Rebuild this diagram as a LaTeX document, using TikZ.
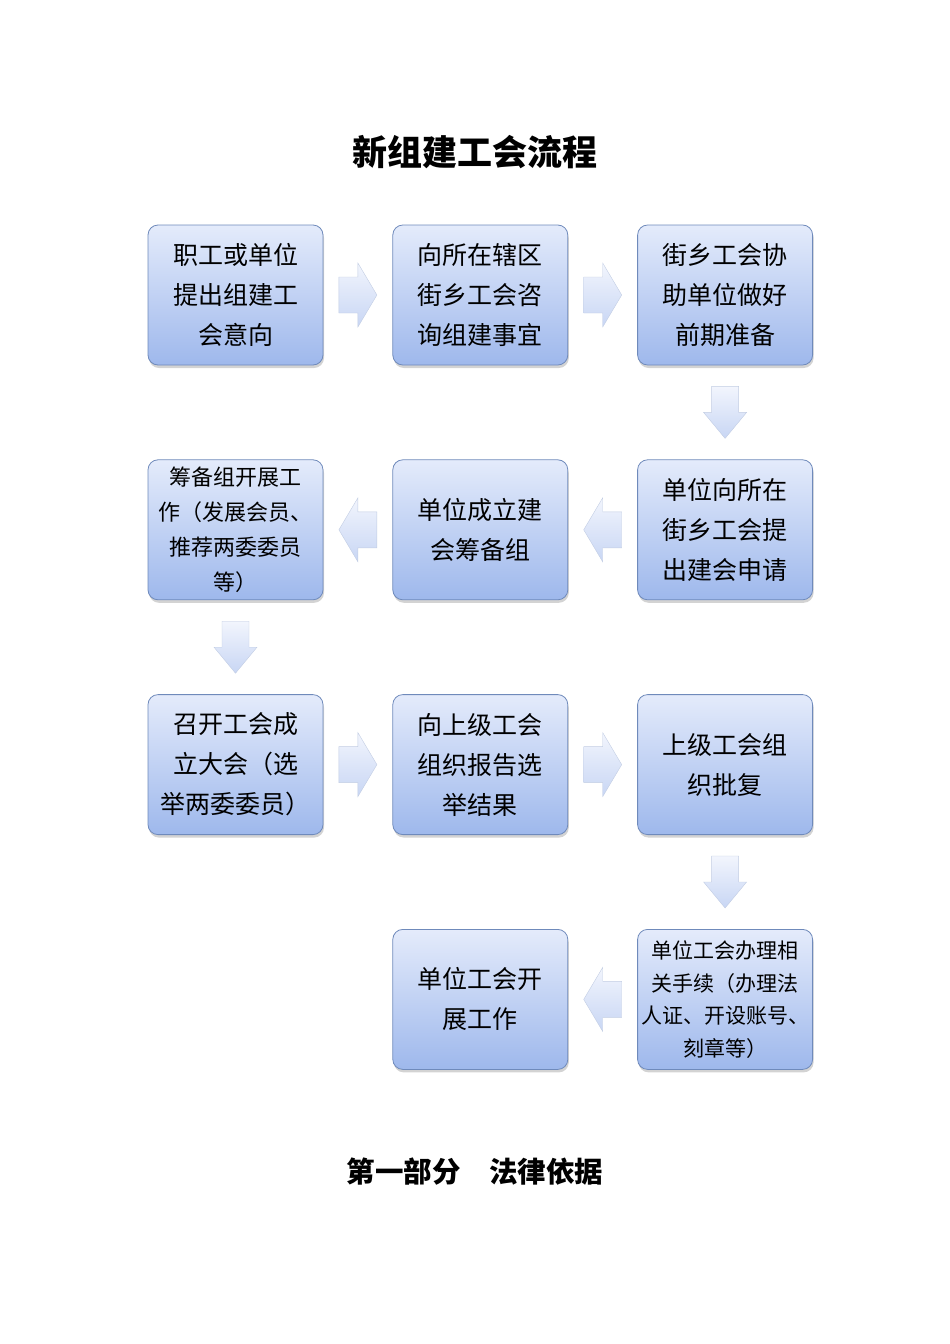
\documentclass[tikz,border=0pt]{standalone}
\usepackage{fontspec}
\setmainfont{Noto Sans CJK SC}
\usepackage{tikz}
\usetikzlibrary{positioning, calc, shadows}

\definecolor{boxtop}{HTML}{E4EBFB}
\definecolor{boxbot}{HTML}{9EB8EC}
\definecolor{boxline}{HTML}{6F8ABB}
\definecolor{arrtop}{HTML}{F2F5FD}
\definecolor{arrbot}{HTML}{C8D6F4}
\definecolor{arrline}{HTML}{C2CDE3}

\begin{document}
\begin{tikzpicture}[
  x=1pt, y=-1pt,
  node distance=94pt and 69pt,
  stepbox/.style={rectangle, rounded corners=10pt, draw=boxline, thick,
    top color=boxtop, bottom color=boxbot, minimum width=175pt,
    minimum height=140pt, inner sep=2pt, align=center,
    font=\fontsize{25pt}{40pt}\selectfont,
    drop shadow={shadow xshift=1pt, shadow yshift=-3pt, opacity=0.35}},
  small/.style={font=\fontsize{22pt}{35pt}\selectfont},
  smaller/.style={font=\fontsize{21pt}{32.5pt}\selectfont},
  blockarrow/.style={draw=arrline, thin, top color=arrtop, bottom color=arrbot},
  harrow/.pic={\path[blockarrow] (-19,-18) -- (0,-18) -- (0,-32) -- (19,0)
    -- (0,32) -- (0,18) -- (-19,18) -- cycle;},
  varrow/.pic={\path[blockarrow] (-13.5,-26) -- (13.5,-26) -- (13.5,0) -- (21.5,0)
    -- (0,26) -- (-21.5,0) -- (-13.5,0) -- cycle;}
]
\useasboundingbox (0,0) rectangle (950,1344);

\node[font=\fontsize{35pt}{40pt}\selectfont\bfseries] (title) at (475,152) {新组建工会流程};

% row 1
\node[stepbox] (apply) at (235.5,295) {职工或单位\\提出组建工\\会意向};
\node[stepbox, right=of apply] (consult) {向所在辖区\\街乡工会咨\\询组建事宜};
\node[stepbox, right=of consult] (prepare) {街乡工会协\\助单位做好\\前期准备};

% row 2
\node[stepbox, below=of prepare] (request) {单位向所在\\街乡工会提\\出建会申请};
\node[stepbox, left=of request] (setup) {单位成立建\\会筹备组};
\node[stepbox, small, left=of setup] (work) {筹备组开展工\\作（发展会员、\\推荐两委委员\\等）};

% row 3
\node[stepbox, below=of work] (congress) {召开工会成\\立大会（选\\举两委委员）};
\node[stepbox, right=of congress] (report) {向上级工会\\组织报告选\\举结果};
\node[stepbox, right=of report] (approve) {上级工会组\\织批复};

% row 4
\node[stepbox, smaller, below=of approve] (formal) {单位工会办理相\\关手续（办理法\\人证、开设账号、\\刻章等）};
\node[stepbox, left=of formal] (start) {单位工会开\\展工作};

\pic at ($(apply.east)!0.5!(consult.west)$) {harrow};
\pic at ($(consult.east)!0.5!(prepare.west)$) {harrow};
\pic at ($(prepare.south)!0.5!(request.north)$) {varrow};
\pic[rotate=180] at ($(request.west)!0.5!(setup.east)$) {harrow};
\pic[rotate=180] at ($(setup.west)!0.5!(work.east)$) {harrow};
\pic at ($(work.south)!0.5!(congress.north)$) {varrow};
\pic at ($(congress.east)!0.5!(report.west)$) {harrow};
\pic at ($(report.east)!0.5!(approve.west)$) {harrow};
\pic at ($(approve.south)!0.5!(formal.north)$) {varrow};
\pic[rotate=180] at ($(formal.west)!0.5!(start.east)$) {harrow};

\node[font=\fontsize{28.5pt}{32pt}\selectfont\bfseries] (part) at (475,1172) {第一部分　法律依据};

\end{tikzpicture}
\end{document}
